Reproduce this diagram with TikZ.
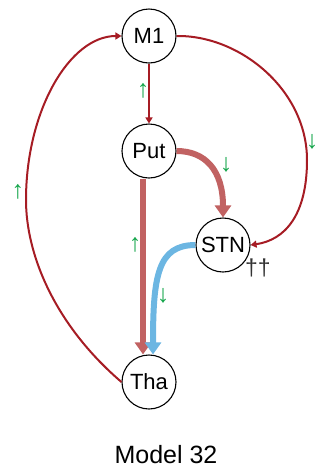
\documentclass[tikz,border=0pt]{standalone}
\usepackage{fontspec}
\setmainfont{Liberation Sans}
\usetikzlibrary{arrows.meta}
\definecolor{darkred}{RGB}{166,28,36}
\definecolor{softred}{RGB}{193,98,98}
\definecolor{skyblue}{RGB}{108,182,226}
\definecolor{upgreen}{RGB}{22,166,76}
\begin{document}
\begin{tikzpicture}[x=1pt,y=-1pt,
    region/.style={circle,draw,line width=1.1pt,minimum size=54pt,inner sep=0pt,font=\fontsize{22}{24}\selectfont},
    link/.style={draw=darkred,line width=2pt,-{Triangle[length=6pt,width=7pt]}},
    strong/.style={line width=6pt,-{Triangle[length=12pt,width=16pt]}},
    change/.style={text=upgreen,font=\fontsize{25}{25}\selectfont,inner sep=0pt}]
        \useasboundingbox (0,0) rectangle (332,475);
        \node[region] (M1) at (149,36) {M1};
        \node[region] (Put) at (149,151) {Put};
        \node[region] (STN) at (223,245) {STN};
        \node[region] (Tha) at (149,382) {Tha};
        \node[text=black!80,font=\fontsize{23}{23}\selectfont] (dag) at (258,268) {††};

        \draw[link] (M1) -- (Put);
        \draw[link] (M1.east) .. controls (240,35) and (307,90) .. (307,160)
            .. controls (307,215) and (285,240) .. (STN.east);
        \draw[link] (Tha.west) .. controls (55,325) and (26,255) .. (26,200)
            .. controls (26,110) and (70,36) .. (M1.west);

        \draw[strong,softred] (Put.east) .. controls (205,151) and (223,170) .. (STN.north);
        \draw[strong,softred] ([xshift=-6pt]Put.south) -- ([xshift=-6pt]Tha.north);
        \draw[strong,skyblue] (STN.west) .. controls (158,245) and (153,275) .. ([xshift=4pt]Tha.north);

        % up / down changes
        \node[change] (c1) at (143,91) {↑};
        \node[change] (c2) at (312,142) {↓};
        \node[change] (c3) at (226,165) {↓};
        \node[change] (c4) at (18,192) {↑};
        \node[change] (c5) at (135,245) {↑};
        \node[change] (c6) at (163,296) {↓};

        \node[font=\fontsize{25}{28}\selectfont] (title) at (166,455) {Model 32};
      \end{tikzpicture}
\end{document}
